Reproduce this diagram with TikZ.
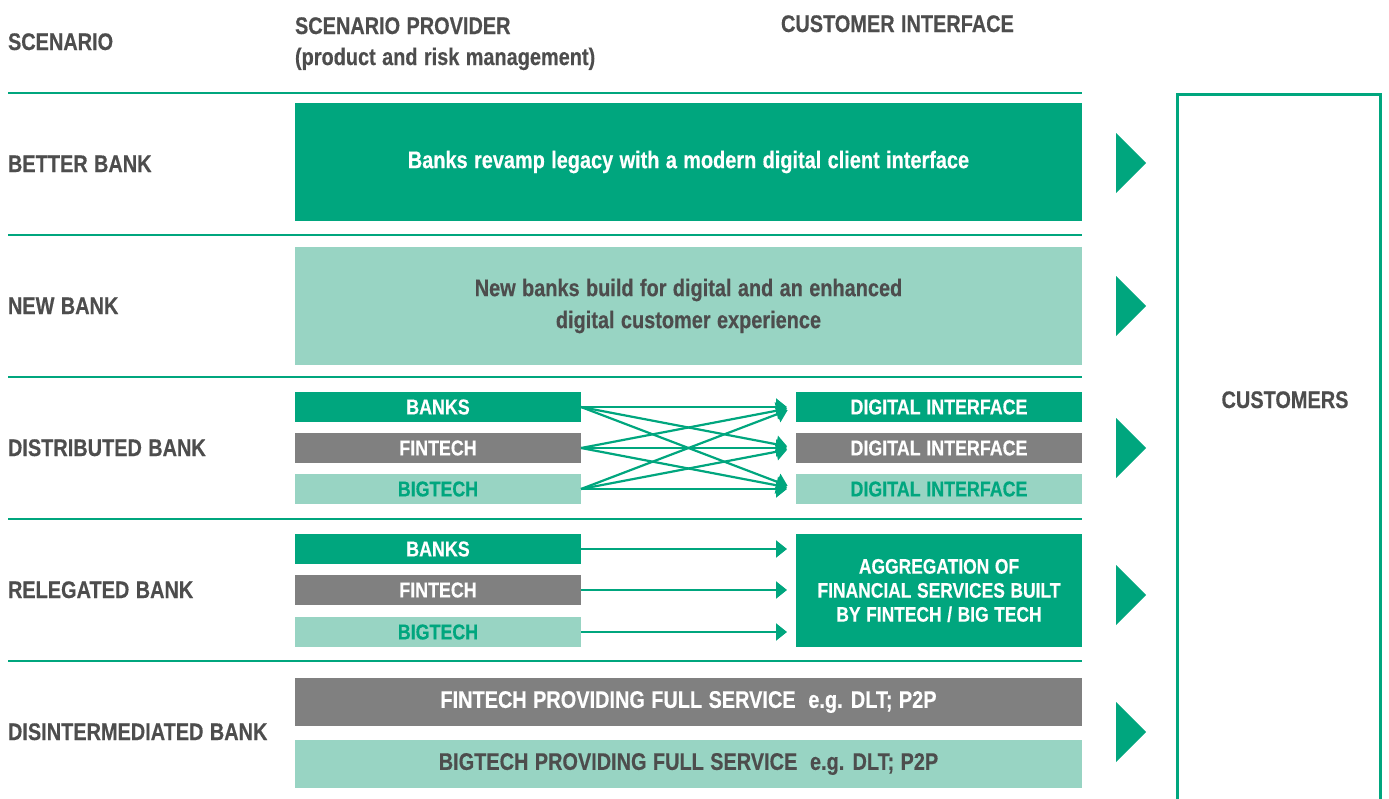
\documentclass[tikz,border=0pt]{standalone}
\usepackage{fontspec}
\setmainfont{Liberation Sans}[FakeStretch=0.83, WordSpace=1.15,
  BoldFeatures={FakeBold=0.4}]
\usetikzlibrary{arrows.meta}
\definecolor{brandgreen}{HTML}{00A67E}
\definecolor{palegreen}{HTML}{98D4C3}
\definecolor{midgray}{HTML}{808080}
\definecolor{inkgray}{HTML}{4D4D4D}

\tikzset{
  every node/.style={inner sep=0pt, outer sep=0pt},
  bodyfont/.style={font=\bfseries\fontsize{24}{32}\selectfont},
  smallfont/.style={font=\bfseries\fontsize{21.5}{26}\selectfont},
  headfont/.style={font=\bfseries\fontsize{24}{32}\selectfont},
  label/.style={headfont, text=inkgray, anchor=base west},
  rowlabel/.style={bodyfont, text=inkgray, anchor=base west},
  panel/.style={anchor=north west, align=center, bodyfont,
    minimum width=#1},
  wide/.style={panel=787pt},
  narrow/.style={panel=286pt, smallfont},
  fillgreen/.style={fill=brandgreen, text=white},
  fillpale/.style={fill=palegreen, text=inkgray},
  fillpalegreen/.style={fill=palegreen, text=brandgreen},
  fillgray/.style={fill=midgray, text=white},
  rowrule/.style={draw=brandgreen, line width=2.5pt},
  link/.style={draw=brandgreen, line width=2.2pt, shorten >=9pt,
    -{Triangle[length=11pt,width=17pt]}},
  pointer/.style={fill=brandgreen},
}

\begin{document}
\begin{tikzpicture}[x=1pt,y=-1pt]
\useasboundingbox (0,0) rectangle (1389,798);

% column headings
\node[label] (hscen) at (8,50) {SCENARIO};
\node[label] (hprov) at (295,34) {SCENARIO PROVIDER};
\node[label] (hprov2) at (295,65) {(product and risk management)};
\node[label] (hcust) at (781,32) {CUSTOMER INTERFACE};

% row separators
\foreach \yy in {93,235,377,519,661}
  \draw[rowrule] (8,\yy) -- (1082,\yy);

% scenario names
\node[rowlabel] (n1) at (8,172) {BETTER BANK};
\node[rowlabel] (n2) at (8,314) {NEW BANK};
\node[rowlabel] (n3) at (8,456) {DISTRIBUTED BANK};
\node[rowlabel] (n4) at (8,598) {RELEGATED BANK};
\node[rowlabel] (n5) at (8,740) {DISINTERMEDIATED BANK};

% better bank
\node[wide, fillgreen, minimum height=118pt] (b1) at (295,103)
  {\raisebox{-2.5pt}{Banks revamp legacy with a modern digital client interface}};

% new bank
\node[wide, fillpale, minimum height=118pt] (b2) at (295,247)
  {New banks build for digital and an enhanced\\digital customer experience};

% distributed bank
\node[narrow, fillgreen, minimum height=30pt] (dl1) at (295,392) {BANKS};
\node[narrow, fillgray, minimum height=30pt] (dl2) at (295,433) {FINTECH};
\node[narrow, fillpalegreen, minimum height=30pt] (dl3) at (295,474) {BIGTECH};
\node[narrow, fillgreen, minimum height=30pt] (dr1) at (796,392) {DIGITAL INTERFACE};
\node[narrow, fillgray, minimum height=30pt] (dr2) at (796,433) {DIGITAL INTERFACE};
\node[narrow, fillpalegreen, minimum height=30pt] (dr3) at (796,474) {DIGITAL INTERFACE};
\foreach \i in {1,2,3}
  \foreach \j in {1,2,3}
    \draw[link] (dl\i.east) -- (dr\j.west |- dl\j.east);

% relegated bank
\node[narrow, fillgreen, minimum height=30pt] (rl1) at (295,534) {BANKS};
\node[narrow, fillgray, minimum height=30pt] (rl2) at (295,575) {FINTECH};
\node[narrow, fillpalegreen, minimum height=30pt] (rl3) at (295,617) {BIGTECH};
\node[narrow, fillgreen, minimum height=113pt,
  font=\bfseries\fontsize{21}{24}\selectfont] (rr) at (796,534)
  {AGGREGATION OF\\FINANCIAL SERVICES BUILT\\BY FINTECH / BIG TECH};
\foreach \i in {1,2,3}
  \draw[link] (rl\i.east) -- (rr.west |- rl\i.east);

% disintermediated bank
\node[wide, fillgray, minimum height=48pt] (x1) at (295,678)
  {FINTECH PROVIDING FULL SERVICE\ \ e.g. DLT; P2P};
\node[wide, fillpale, minimum height=48pt] (x2) at (295,740)
  {BIGTECH PROVIDING FULL SERVICE\ \ e.g. DLT; P2P};

% pointers towards the customers
\foreach \yy in {163,306,448,595,732}
  \fill[pointer] (1116,\yy-30) -- (1146,\yy) -- (1116,\yy+30) -- cycle;

% customers frame, open at the bottom
\draw[brandgreen, line width=3pt] (1177.5,800) -- (1177.5,94.5)
  -- (1380.5,94.5) -- (1380.5,800);
\node[rowlabel, anchor=base] (cust) at (1285,408) {CUSTOMERS};
\end{tikzpicture}
\end{document}
